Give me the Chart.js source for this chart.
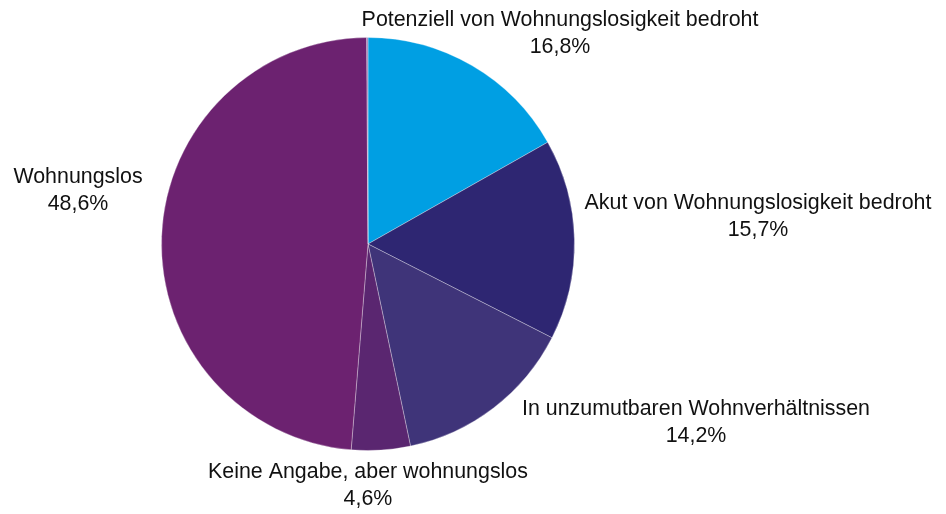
<!DOCTYPE html>
<html><head><meta charset="utf-8">
<script src="https://cdn.jsdelivr.net/npm/chart.js@4"></script>
<style>html,body{margin:0;padding:0;background:#fff;}#wrap{width:946px;height:514px;position:relative;}</style>
</head><body><div id="wrap"><canvas id="c"></canvas></div>
<script>
const categories = ["Potenziell von Wohnungslosigkeit bedroht","Akut von Wohnungslosigkeit bedroht","In unzumutbaren Wohnverhältnissen","Keine Angabe, aber wohnungslos","Wohnungslos","Sonstige"];
const values = [16.8, 15.7, 14.2, 4.6, 48.6, 0.1];
const valueLabels = ["16,8%","15,7%","14,2%","4,6%","48,6%",""];
const colors = ["#009fe3","#2e2672","#3f3479","#5a2670","#6c2270","#9a7bb5"];
// label offsets relative to pie centre (px)
const labelOffsets = [[192,-224],[390,-41],[328,165],[0,228],[-290,-67],null];

const labelPlugin = {
  id:'outLabels',
  afterDatasetsDraw(chart){
    const ctx = chart.ctx;
    const arc0 = chart.getDatasetMeta(0).data[0];
    const cx = arc0.x, cy = arc0.y;
    ctx.save();
    ctx.font = '21.4px "Liberation Sans", Arial, sans-serif';
    ctx.fillStyle = '#111';
    ctx.textAlign = 'center';
    ctx.textBaseline = 'middle';
    categories.forEach((c,i)=>{
      const o = labelOffsets[i];
      if(!o) return;
      ctx.fillText(c, cx+o[0], cy+o[1]);
      ctx.fillText(valueLabels[i], cx+o[0], cy+o[1]+27);
    });
    ctx.restore();
  }
};

new Chart(document.getElementById('c'), {
  type:'pie',
  data:{labels:categories, datasets:[{data:values, backgroundColor:colors, borderWidth:1, borderColor:'rgba(255,255,255,0.3)'}]},
  options:{
    responsive:true, maintainAspectRatio:false, animation:false,
    layout:{padding:{top:37,bottom:63,left:161,right:371}},
    plugins:{legend:{display:false},tooltip:{enabled:false}}
  },
  plugins:[labelPlugin]
});
</script></body></html>
